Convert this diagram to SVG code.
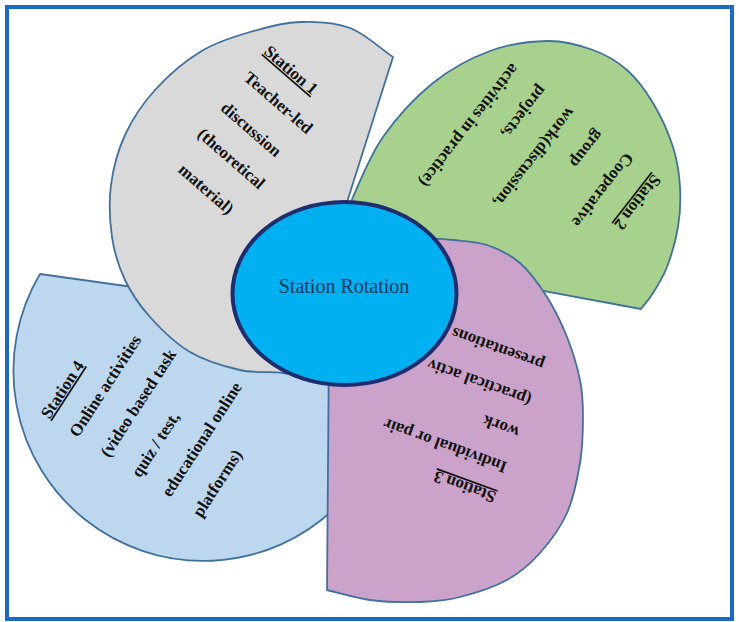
<svg xmlns="http://www.w3.org/2000/svg" width="739" height="622" viewBox="0 0 739 622">
<style>
.shape{stroke:#41719c;stroke-width:1.8;stroke-linejoin:round}
.lbl{font-family:"Liberation Serif","Times New Roman",serif;font-size:17px;font-weight:bold;fill:#111}
.ul{text-decoration:underline}
.mid{text-anchor:middle}
.center-lbl{font-family:"Liberation Serif","Times New Roman",serif;font-size:20px;fill:#17375e;text-anchor:middle}
</style>
<rect x="0" y="0" width="739" height="622" fill="#ffffff"/>
<rect id="frame" x="7" y="7" width="725" height="612" fill="none" stroke="#1a6bbf" stroke-width="4"/>

<g id="station4">
<path class="shape" fill="#bdd7ee" d="M40,274 L340,316 L335,508 A190,190 0 0 1 40,274 Z"/>
<g class="lbl" transform="translate(61.7,390.7) rotate(-57)">
<text class="ul" x="-31" y="5.5">Station 4</text>
<text x="-31" y="39.5">Online activities</text>
<text x="-31" y="76.5">(video based task</text>
<text x="-31" y="113.5">quiz / test,</text>
<text x="-31" y="149.5">educational online</text>
<text x="-31" y="186.5">platforms)</text>
</g>
</g>

<g id="station1">
<path class="shape" fill="#d9d9d9" d="M393,57 C378.7,47.3 365.5,33.8 350,28 C334.5,22.2 316.7,21.3 300,22 C283.3,22.7 266.7,27 250,32 C233.3,37 215.8,42.3 200,52 C184.2,61.7 167.5,76.2 155,90 C142.5,103.8 132.3,119.2 125,135 C117.7,150.8 113.2,168 111,185 C108.8,202 109.7,221.2 112,237 C114.3,252.8 118.7,266.7 125,280 C131.3,293.3 139.2,305 150,317 C160.8,329 175,343.2 190,352 C205,360.8 224.5,366.5 240,370 C255.5,373.5 270.5,371.3 283,373 C295.5,374.7 304.3,377.7 315,380 L328,262 Z"/>
<g class="lbl mid" transform="translate(291,70) rotate(41)">
<text class="ul" x="0" y="5.5">Station 1</text>
<text x="12" y="38.5">Teacher-led</text>
<text x="9" y="76.5">discussion</text>
<text x="13" y="111.5">(theoretical</text>
<text x="14" y="151">material)</text>
</g>
</g>

<g id="station2">
<path class="shape" fill="#a9d18e" d="M641,309 C645,303.7 648.7,300 653,293 C657.3,286 662.8,278 667,267 C671.2,256 675.8,240.3 678,227 C680.2,213.7 680.8,200.3 680,187 C679.2,173.7 677.5,161 673,147 C668.5,133 660.7,115.8 653,103 C645.3,90.2 637,78.8 627,70 C617,61.2 606.2,54.8 593,50 C579.8,45.2 565.2,40.8 548,41 C530.8,41.2 509.2,44 490,51 C470.8,58 450.8,68.7 433,83 C415.2,97.3 396.3,118 383,137 C369.7,156 359.7,182.3 353,197 C346.3,211.7 346.3,215.7 343,225 L430,270 Z"/>
<g class="lbl" transform="translate(638,202) rotate(128)">
<text class="ul" x="-32" y="5.5">Station 2</text>
<text x="-32" y="40.5">Cooperative</text>
<text x="-32" y="78.5">group</text>
<text x="-32" y="114.5">work(discussion,</text>
<text x="-32" y="150.5">projects,</text>
<text x="-32" y="185.5">activities in practice)</text>
</g>
</g>

<g id="station3">
<path class="shape" fill="#caa2ca" d="M425,238 C434.3,238.7 442.7,238.8 453,240 C463.3,241.2 475.8,241.2 487,245 C498.2,248.8 510,254.3 520,263 C530,271.7 539.2,284.7 547,297 C554.8,309.3 561.5,323.2 567,337 C572.5,350.8 577.3,366.7 580,380 C582.7,393.3 583,403.2 583,417 C583,430.8 582.7,447 580,463 C577.3,479 573.7,498 567,513 C560.3,528 550,541.8 540,553 C530,564.2 520.3,572.7 507,580 C493.7,587.3 474.5,593.3 460,597 C445.5,600.7 435,601.5 420,602 C405,602.5 385.5,602 370,600 C354.5,598 341.3,593.3 327,590 L329,340 Z"/>
<g class="lbl" transform="translate(465,487) rotate(200)">
<text class="ul" x="-32" y="5.5">Station 3</text>
<text x="-32" y="37.5">Individual or pair</text>
<text x="-32" y="74.5">work</text>
<text x="-32" y="108.5">(practical activ</text>
<text x="-32" y="146.5">presentations e</text>
</g>
</g>

<g id="center">
<ellipse cx="344.5" cy="293.5" rx="112" ry="91.5" fill="#00b0f0" stroke="#1f2d6e" stroke-width="4"/>
<text class="center-lbl" x="344" y="293">Station Rotation</text>
</g>
</svg>
